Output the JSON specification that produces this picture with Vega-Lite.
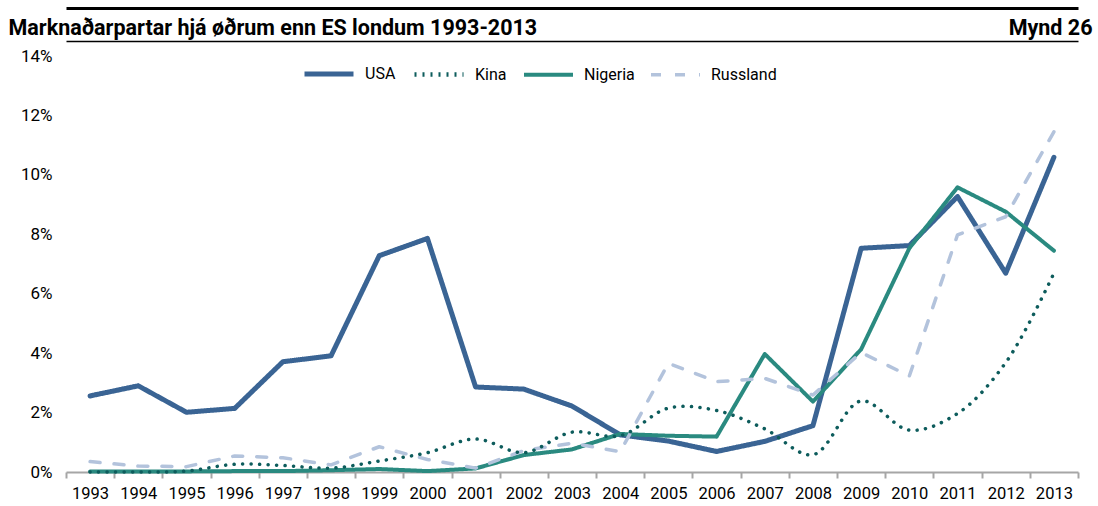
{
  "$schema": "https://vega.github.io/schema/vega-lite/v6.json",
  "width": 1012,
  "height": 416,
  "autosize": {"type": "none"},
  "padding": {"left": 66, "top": 56, "right": 20, "bottom": 34},
  "background": "white",
  "config": {
    "view": {"stroke": null},
    "font": "Roboto",
    "axis": {"labelFont": "Roboto", "titleFont": "Roboto"},
    "legend": {"labelFont": "Roboto"}
  },
  "data": {
    "values": [
      {"year": 1993, "country": "USA", "v": 0.0256},
      {"year": 1994, "country": "USA", "v": 0.0290},
      {"year": 1995, "country": "USA", "v": 0.0201},
      {"year": 1996, "country": "USA", "v": 0.0214},
      {"year": 1997, "country": "USA", "v": 0.0371},
      {"year": 1998, "country": "USA", "v": 0.0391},
      {"year": 1999, "country": "USA", "v": 0.0728},
      {"year": 2000, "country": "USA", "v": 0.0786},
      {"year": 2001, "country": "USA", "v": 0.0286},
      {"year": 2002, "country": "USA", "v": 0.0279},
      {"year": 2003, "country": "USA", "v": 0.0222},
      {"year": 2004, "country": "USA", "v": 0.0125},
      {"year": 2005, "country": "USA", "v": 0.0104},
      {"year": 2006, "country": "USA", "v": 0.0069},
      {"year": 2007, "country": "USA", "v": 0.0103},
      {"year": 2008, "country": "USA", "v": 0.0156},
      {"year": 2009, "country": "USA", "v": 0.0753},
      {"year": 2010, "country": "USA", "v": 0.0762},
      {"year": 2011, "country": "USA", "v": 0.0927},
      {"year": 2012, "country": "USA", "v": 0.0669},
      {"year": 2013, "country": "USA", "v": 0.1059},
      {"year": 1993, "country": "Kina", "v": 0.0},
      {"year": 1994, "country": "Kina", "v": 0.0},
      {"year": 1995, "country": "Kina", "v": 0.0003},
      {"year": 1996, "country": "Kina", "v": 0.0026},
      {"year": 1997, "country": "Kina", "v": 0.0022},
      {"year": 1998, "country": "Kina", "v": 0.0013},
      {"year": 1999, "country": "Kina", "v": 0.0037},
      {"year": 2000, "country": "Kina", "v": 0.0065},
      {"year": 2001, "country": "Kina", "v": 0.0111},
      {"year": 2002, "country": "Kina", "v": 0.0065},
      {"year": 2003, "country": "Kina", "v": 0.0134},
      {"year": 2004, "country": "Kina", "v": 0.0122},
      {"year": 2005, "country": "Kina", "v": 0.0215},
      {"year": 2006, "country": "Kina", "v": 0.0207},
      {"year": 2007, "country": "Kina", "v": 0.0145},
      {"year": 2008, "country": "Kina", "v": 0.0058},
      {"year": 2009, "country": "Kina", "v": 0.0239},
      {"year": 2010, "country": "Kina", "v": 0.0141},
      {"year": 2011, "country": "Kina", "v": 0.0197},
      {"year": 2012, "country": "Kina", "v": 0.0368},
      {"year": 2013, "country": "Kina", "v": 0.0669},
      {"year": 1993, "country": "Nigeria", "v": 0.0002},
      {"year": 1994, "country": "Nigeria", "v": 0.0002},
      {"year": 1995, "country": "Nigeria", "v": 0.0002},
      {"year": 1996, "country": "Nigeria", "v": 0.0003},
      {"year": 1997, "country": "Nigeria", "v": 0.0003},
      {"year": 1998, "country": "Nigeria", "v": 0.0006},
      {"year": 1999, "country": "Nigeria", "v": 0.0010},
      {"year": 2000, "country": "Nigeria", "v": 0.0003},
      {"year": 2001, "country": "Nigeria", "v": 0.0012},
      {"year": 2002, "country": "Nigeria", "v": 0.0057},
      {"year": 2003, "country": "Nigeria", "v": 0.0076},
      {"year": 2004, "country": "Nigeria", "v": 0.0128},
      {"year": 2005, "country": "Nigeria", "v": 0.0122},
      {"year": 2006, "country": "Nigeria", "v": 0.0119},
      {"year": 2007, "country": "Nigeria", "v": 0.0397},
      {"year": 2008, "country": "Nigeria", "v": 0.0237},
      {"year": 2009, "country": "Nigeria", "v": 0.0413},
      {"year": 2010, "country": "Nigeria", "v": 0.0753},
      {"year": 2011, "country": "Nigeria", "v": 0.0958},
      {"year": 2012, "country": "Nigeria", "v": 0.0876},
      {"year": 2013, "country": "Nigeria", "v": 0.0745},
      {"year": 1993, "country": "Russland", "v": 0.0035},
      {"year": 1994, "country": "Russland", "v": 0.0020},
      {"year": 1995, "country": "Russland", "v": 0.0018},
      {"year": 1996, "country": "Russland", "v": 0.0054},
      {"year": 1997, "country": "Russland", "v": 0.0048},
      {"year": 1998, "country": "Russland", "v": 0.0024},
      {"year": 1999, "country": "Russland", "v": 0.0085},
      {"year": 2000, "country": "Russland", "v": 0.0042},
      {"year": 2001, "country": "Russland", "v": 0.0013},
      {"year": 2002, "country": "Russland", "v": 0.0072},
      {"year": 2003, "country": "Russland", "v": 0.0097},
      {"year": 2004, "country": "Russland", "v": 0.0068},
      {"year": 2005, "country": "Russland", "v": 0.0366},
      {"year": 2006, "country": "Russland", "v": 0.0304},
      {"year": 2007, "country": "Russland", "v": 0.0315},
      {"year": 2008, "country": "Russland", "v": 0.0259},
      {"year": 2009, "country": "Russland", "v": 0.0402},
      {"year": 2010, "country": "Russland", "v": 0.0323},
      {"year": 2011, "country": "Russland", "v": 0.0798},
      {"year": 2012, "country": "Russland", "v": 0.0859},
      {"year": 2013, "country": "Russland", "v": 0.1145}
    ]
  },
  "layer": [
    {
      "transform": [{"filter": "datum.country !== 'Kina'"}],
      "mark": {"type": "line", "strokeCap": "round", "strokeJoin": "round"},
      "encoding": {
        "x": {
          "field": "year", "type": "ordinal", "bandPosition": 0.5,
          "scale": {"type": "band", "paddingInner": 0, "paddingOuter": 0},
          "axis": {
            "orient": "bottom", "title": null, "labelAngle": 0, "tickBand": "extent",
            "domainColor": "#a6a6a6", "domainWidth": 2, "tickColor": "#a6a6a6", "tickWidth": 2, "tickSize": 6,
            "labelFontSize": 16.5, "labelColor": "black", "labelPadding": 7, "grid": false
          }
        },
        "y": {
          "field": "v", "type": "quantitative",
          "scale": {"domain": [0, 0.14], "nice": false, "zero": true},
          "axis": {
            "title": null, "values": [0, 0.02, 0.04, 0.06, 0.08, 0.1, 0.12, 0.14], "format": ".0%",
            "domain": false, "ticks": false, "grid": false, "labelFontSize": 17, "labelColor": "black", "labelPadding": 14
          }
        },
        "color": {
          "field": "country", "type": "nominal",
          "scale": {"domain": ["USA", "Kina", "Nigeria", "Russland"], "range": ["#3a6494", "#0d5c5c", "#2a8a80", "#b3c3dc"]},
          "legend": {
            "orient": "none", "legendX": 236, "legendY": -9, "direction": "horizontal", "title": null,
            "symbolType": "stroke", "symbolSize": 2401, "symbolStrokeWidth": 5,
            "labelFontSize": 16, "labelColor": "black", "labelOffset": 9, "columnPadding": 9
          }
        },
        "strokeDash": {
          "field": "country", "type": "nominal",
          "scale": {"domain": ["USA", "Kina", "Nigeria", "Russland"], "range": [[1, 0], [2, 6], [1, 0], [10, 14]]},
          "legend": {
            "orient": "none", "legendX": 236, "legendY": -9, "direction": "horizontal", "title": null,
            "symbolType": "stroke", "symbolSize": 2401, "symbolStrokeWidth": 5,
            "labelFontSize": 16, "labelColor": "black", "labelOffset": 9, "columnPadding": 9
          }
        },
        "strokeWidth": {
          "field": "country", "type": "nominal",
          "scale": {"domain": ["USA", "Kina", "Nigeria", "Russland"], "range": [5, 3.5, 5, 4]},
          "legend": null
        }
      }
    },
    {
      "transform": [{"filter": "datum.country === 'Kina'"}],
      "mark": {"type": "line", "interpolate": "catmull-rom", "strokeCap": "round", "strokeDash": [0.1, 8.4], "strokeWidth": 3.5, "color": "#0d5c5c"},
      "encoding": {
        "x": {"field": "year", "type": "ordinal", "bandPosition": 0.5, "axis": null},
        "y": {"field": "v", "type": "quantitative"}
      }
    },
    {
      "mark": {"type": "rule", "opacity": 0},
      "encoding": {
        "x": {
          "field": "year", "type": "ordinal",
          "axis": {
            "orient": "top", "offset": 15, "domainColor": "black", "domainWidth": 1.5, "ticks": false, "labels": false, "grid": false,
            "title": "Marknaðarpartar hjá øðrum enn ES londum 1993-2013",
            "titleX": -58, "titleY": -13, "titleAlign": "left", "titleBaseline": "middle", "titleAnchor": "start",
            "titleFontSize": 21.5, "titleFontWeight": "bold", "titleColor": "black", "titlePadding": 0
          }
        }
      }
    },
    {
      "mark": {"type": "rule", "opacity": 0},
      "encoding": {
        "x": {
          "field": "year", "type": "ordinal",
          "axis": {
            "orient": "top", "offset": 48, "domainColor": "black", "domainWidth": 3, "ticks": false, "labels": false, "grid": false,
            "title": "Mynd 26",
            "titleX": 1026, "titleY": 20, "titleAlign": "right", "titleBaseline": "middle", "titleAnchor": "end",
            "titleFontSize": 21.5, "titleFontWeight": "bold", "titleColor": "black", "titlePadding": 0
          }
        }
      }
    }
  ],
  "resolve": {"axis": {"x": "independent"}}
}
